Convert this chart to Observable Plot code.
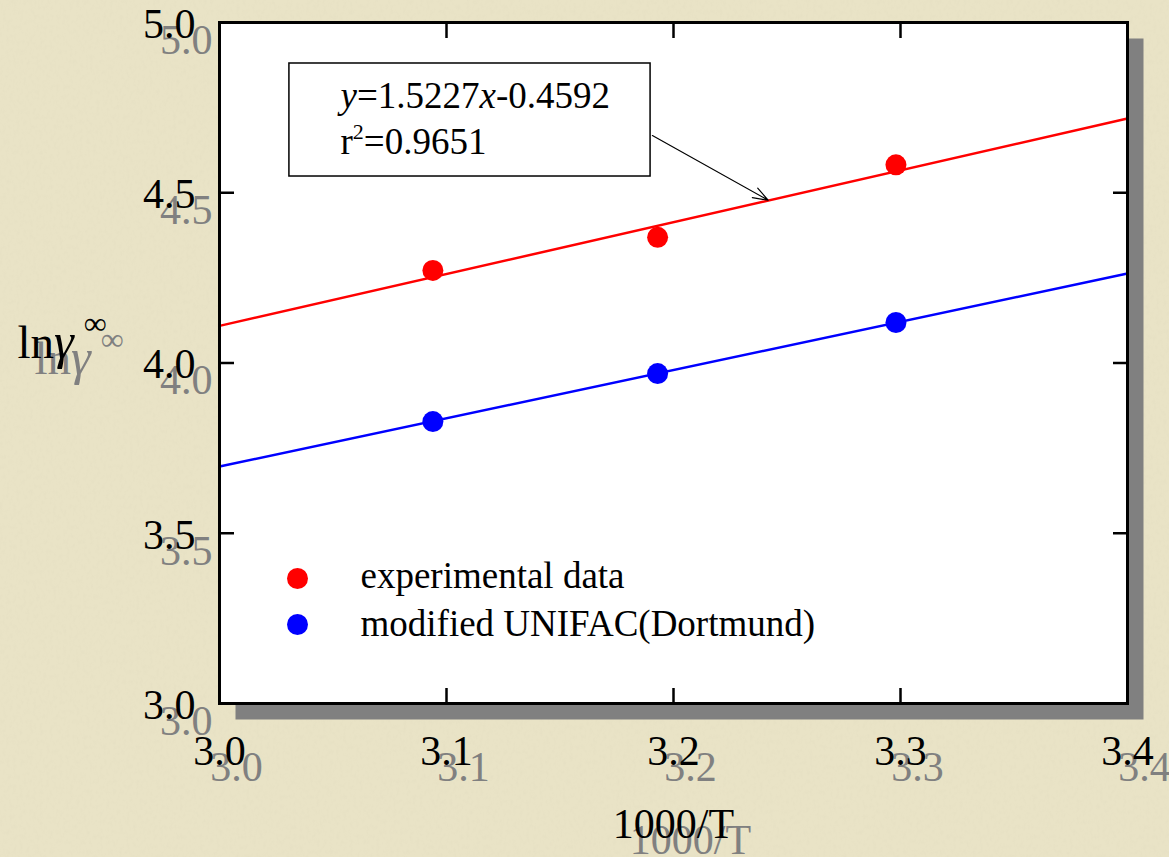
<!DOCTYPE html>
<html>
<head>
<meta charset="utf-8">
<script src="https://cdn.jsdelivr.net/npm/d3@7"></script>
<script src="https://cdn.jsdelivr.net/npm/@observablehq/plot@0.6"></script>
<style>
  html, body { margin: 0; padding: 0; background: #e9e3c6; }
  #chart { width: 1169px; height: 857px; overflow: hidden; }
</style>
</head>
<body>
<div id="chart"></div>
<script>
// ---------- data ----------
const xTicks = [3.0, 3.1, 3.2, 3.3, 3.4];
const yTicks = [3.0, 3.5, 4.0, 4.5, 5.0];
const invT = [3.094, 3.193, 3.298];                 // 1000/T
const lnGammaExp = [4.272, 4.369, 4.582];           // experimental data
const lnGammaUnifac = [3.828, 3.969, 4.119];        // modified UNIFAC(Dortmund)
const fitX = [3.0, 3.4];
const fitExp = [4.109, 4.718];
const fitUnifac = [3.696, 4.263];
const seriesNames = ["experimental data", "modified UNIFAC(Dortmund)"];
const seriesColors = ["#ff0000", "#0000ff"];
const equationLines = ["y=1.5227x-0.4592", "r2=0.9651"];
const xTitle = "1000/T";
const yTitle = "lnγ∞";

// ---------- layout (annotation placement, in data units) ----------
const box = {x1: 3.0308, x2: 3.1899, y1: 4.5477, y2: 4.8796};
const eqPos = [{x: 3.0533, y: 4.785}, {x: 3.0533, y: 4.650}];
const arrowPos = {x1: 3.1907, y1: 4.668, x2: 3.2417, y2: 4.478};

const points = [
  ...invT.map((x, i) => ({x, y: lnGammaExp[i], s: 0})),
  ...invT.map((x, i) => ({x, y: lnGammaUnifac[i], s: 1}))
];
const fits = [
  ...fitX.map((x, i) => ({x, y: fitExp[i], s: 0})),
  ...fitX.map((x, i) => ({x, y: fitUnifac[i], s: 1}))
];
const innerX = xTicks.slice(1, -1);
const innerY = yTicks.slice(1, -1);
const fmt = d3.format(".1f");
const FONT = "Liberation Serif, Times New Roman, serif";
const SHADOW = "#808080";

const labelAxes = (fill, dx, dy) => [
  Plot.axisX(xTicks, {anchor: "bottom", tickSize: 0, tickPadding: 32, tickFormat: fmt,
    fontSize: 42, fill, dx, dy, label: null}),
  Plot.axisY(yTicks, {anchor: "left", tickSize: 0, tickPadding: 24, tickFormat: fmt,
    fontSize: 42, fill, dx, dy: dy + 2, label: null}),
  Plot.text([xTitle], {frameAnchor: "bottom", text: d => d, fontSize: 42, fill,
    dx: dx, dy: 121 + dy, lineAnchor: "middle"}),
  Plot.text([yTitle], {frameAnchor: "left", text: d => d, fontSize: 47, fill,
    textAnchor: "start", dx: -202 + dx, dy: -20 + dy, lineAnchor: "middle"})
];

const chart = Plot.plot({
  width: 1169,
  height: 857,
  marginLeft: 219,
  marginRight: 42,
  marginTop: 22,
  marginBottom: 154,
  style: {background: "transparent", fontFamily: FONT, color: "black", overflow: "visible"},
  x: {domain: [3.0, 3.4]},
  y: {domain: [3.0, 5.0]},
  color: {domain: [0, 1], range: seriesColors},
  marks: [
    Plot.frame({fill: SHADOW, dx: 16, dy: 16}),
    Plot.frame({fill: "white"}),
    Plot.line(fits, {x: "x", y: "y", z: "s", stroke: "s", strokeWidth: 2.5}),
    Plot.dot(points, {x: "x", y: "y", fill: "s", r: 10.5}),
    Plot.rect([box], {x1: "x1", x2: "x2", y1: "y1", y2: "y2", fill: "white", stroke: "black", strokeWidth: 1.5}),
    Plot.arrow([arrowPos], {x1: "x1", y1: "y1", x2: "x2", y2: "y2", stroke: "black",
      strokeWidth: 1.2, headLength: 20, headAngle: 40}),
    Plot.text(equationLines, {x: (d, i) => eqPos[i].x, y: (d, i) => eqPos[i].y, text: d => d,
      textAnchor: "start", fontSize: 37, fill: "black", lineAnchor: "middle"}),
    ...seriesNames.map((name, i) => Plot.dot([name], {frameAnchor: "bottom-left", dx: 78, dy: -125 + 46 * i,
      r: 10.5, fill: seriesColors[i]})),
    ...seriesNames.map((name, i) => Plot.text([name], {frameAnchor: "bottom-left", dx: 141, dy: -127 + 48 * i,
      text: d => d, textAnchor: "start", fontSize: 37, fill: "black", lineAnchor: "middle"})),
    Plot.axisX(innerX, {anchor: "bottom", tickSize: -15, fill: "none", strokeWidth: 2.5, label: null}),
    Plot.axisX(innerX, {anchor: "top", tickSize: -15, fill: "none", strokeWidth: 2.5, label: null}),
    Plot.axisY(innerY, {anchor: "left", tickSize: -15, fill: "none", strokeWidth: 2.5, label: null}),
    Plot.axisY(innerY, {anchor: "right", tickSize: -15, fill: "none", strokeWidth: 2.5, label: null}),
    Plot.frame({stroke: "black", strokeWidth: 3}),
    ...labelAxes(SHADOW, 17, 16),
    ...labelAxes("black", 0, 0)
  ]
});

// Rich text styling (italic / superscripts) on real text elements
const svg = d3.select(chart);
svg.selectAll("text").each(function() {
  const t = d3.select(this);
  const s = t.text();
  if (s === yTitle) {
    t.text("");
    t.append("tspan").text("ln");
    t.append("tspan").attr("font-style", "italic").attr("font-size", 50).text("γ");
    t.append("tspan").attr("font-size", 32).attr("dx", 10).attr("dy", -24).text("∞");
  } else if (s === equationLines[0]) {
    t.text("");
    t.append("tspan").attr("font-style", "italic").text("y");
    t.append("tspan").text("=1.5227");
    t.append("tspan").attr("font-style", "italic").text("x");
    t.append("tspan").text("-0.4592");
  } else if (s === equationLines[1]) {
    t.text("");
    t.append("tspan").text("r");
    t.append("tspan").attr("font-size", 22).attr("dy", -15).text("2");
    t.append("tspan").attr("dy", 15).text("=0.9651");
  }
});

// subtle paper texture behind everything
const defs = svg.insert("defs", ":first-child");
const f = defs.append("filter").attr("id", "paper").attr("x", 0).attr("y", 0).attr("width", "100%").attr("height", "100%");
f.append("feTurbulence").attr("type", "fractalNoise").attr("baseFrequency", "0.3 0.2").attr("numOctaves", 3).attr("seed", 7).attr("result", "n");
f.append("feColorMatrix").attr("in", "n").attr("type", "matrix")
  .attr("values", "0 0 0 0 0.6  0 0 0 0 0.56  0 0 0 0 0.42  0 0 0 -1.1 0.6");
svg.insert("rect", "defs + *").attr("width", 1169).attr("height", 857).attr("fill", "#e9e3c6");
svg.insert("rect", "defs + rect + *").attr("width", 1169).attr("height", 857).attr("filter", "url(#paper)").attr("opacity", 0.18);

document.getElementById("chart").appendChild(chart);
</script>
</body>
</html>
